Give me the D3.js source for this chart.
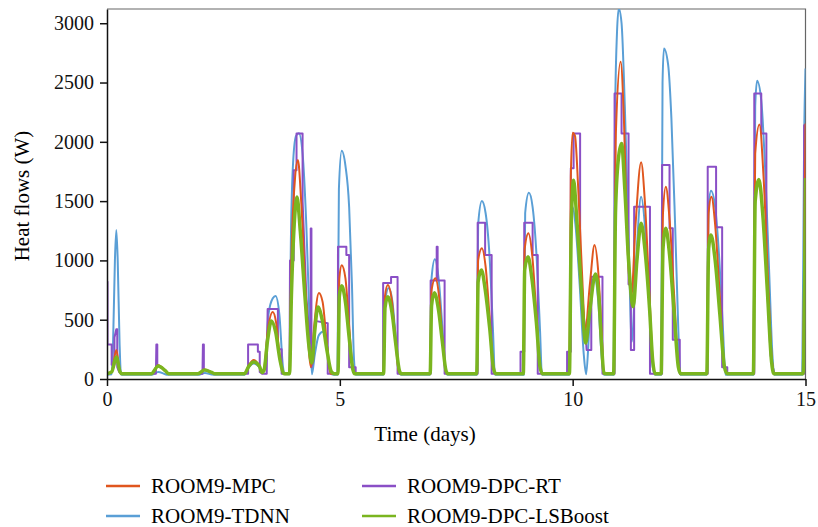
<!DOCTYPE html>
<html>
<head>
<meta charset="utf-8">
<script src="https://cdn.jsdelivr.net/npm/d3@7"></script>
<style>
  body { margin: 0; background: #fff; }
</style>
</head>
<body>
<div id="wrapper"></div>
<script>
// values: [day, heat flow W]
const mpc = [
  [0,45],[0.1,60],[0.2,245],[0.28,60],[0.32,45],[0.95,45],[1.1,115],[1.25,70],[1.32,45],
  [1.95,45],[2.1,80],[2.25,55],[2.32,45],[2.95,45],[3.05,120],[3.15,160],[3.27,110],[3.33,60],
  [3.37,80],[3.45,400],[3.56,565],[3.63,480],[3.72,150],[3.8,45],[3.92,45],[3.96,1000],
  [4.03,1650],[4.1,1846],[4.17,1500],[4.27,700],[4.38,100],[4.45,450],[4.55,725],[4.63,650],
  [4.72,300],[4.8,45],[4.96,45],[4.99,850],[5.04,960],[5.12,850],[5.2,450],[5.28,80],[5.32,45],
  [5.94,45],[5.97,700],[6.03,792],[6.12,650],[6.2,300],[6.27,60],[6.32,45],[6.94,45],[6.97,750],
  [7.05,850],[7.13,700],[7.2,350],[7.28,60],[7.32,45],[7.94,45],[7.97,1000],[8.05,1103],
  [8.13,950],[8.22,500],[8.3,90],[8.35,45],[8.94,45],[8.97,1100],[9.05,1230],[9.13,1050],
  [9.22,550],[9.3,100],[9.35,45],[9.93,45],[9.96,1700],[10.0,2076],[10.05,2050],[10.12,1600],
  [10.2,900],[10.27,413],[10.37,800],[10.47,1130],[10.55,900],[10.62,400],[10.67,50],[10.72,45],
  [10.88,45],[10.93,2100],[11.03,2675],[11.1,2200],[11.18,1100],[11.26,700],[11.35,1300],
  [11.47,1827],[11.55,1500],[11.65,700],[11.72,150],[11.77,45],[11.9,45],[11.94,1400],
  [12.0,1621],[12.08,1350],[12.18,700],[12.27,100],[12.32,45],[12.88,45],[12.92,1400],
  [12.98,1537],[13.06,1300],[13.16,700],[13.26,100],[13.32,45],[13.88,45],[13.92,1900],
  [14.01,2147],[14.1,1700],[14.2,800],[14.28,150],[14.33,45],[14.95,45],[15.0,2155]
];
const tdnn = [
  [0,35],[0.1,40],[0.13,300],[0.17,1000],[0.2,1256],[0.23,1000],[0.27,300],[0.3,40],[0.35,35],
  [0.95,35],[1.1,60],[1.25,40],[1.3,35],[1.95,35],[2.1,50],[2.25,38],[2.3,35],[2.95,35],
  [3.05,100],[3.15,130],[3.27,100],[3.33,60],[3.39,100],[3.47,550],[3.56,680],[3.62,700],
  [3.7,550],[3.78,100],[3.82,40],[3.92,40],[3.95,1200],[4.0,1850],[4.06,2050],[4.12,2072],
  [4.2,1900],[4.28,1300],[4.35,500],[4.4,40],[4.46,200],[4.55,370],[4.65,400],[4.72,300],
  [4.8,50],[4.86,35],[4.95,35],[4.98,1600],[5.04,1925],[5.12,1800],[5.2,1450],[5.26,800],
  [5.3,200],[5.34,35],[5.94,35],[5.97,650],[6.05,767],[6.13,650],[6.2,350],[6.27,60],[6.32,35],
  [6.94,35],[6.97,850],[7.04,1009],[7.12,850],[7.2,450],[7.27,60],[7.32,35],[7.94,35],
  [7.97,1300],[8.05,1500],[8.13,1400],[8.22,1000],[8.29,400],[8.33,35],[8.95,35],[8.98,1400],
  [9.06,1570],[9.14,1450],[9.23,1000],[9.3,400],[9.34,35],[9.93,35],[9.96,1100],[10.0,1450],
  [10.06,1300],[10.15,800],[10.24,200],[10.29,40],[10.36,450],[10.47,860],[10.55,650],
  [10.62,200],[10.67,35],[10.88,35],[10.91,2200],[10.95,2900],[10.99,3125],[11.05,3000],
  [11.12,2300],[11.2,1200],[11.27,314],[11.35,900],[11.47,1537],[11.55,1300],[11.65,600],
  [11.72,100],[11.77,35],[11.9,35],[11.93,2500],[11.96,2787],[12.05,2650],[12.12,2200],
  [12.2,1300],[12.27,400],[12.31,35],[12.88,35],[12.92,1450],[12.97,1587],[13.06,1450],
  [13.15,1000],[13.23,400],[13.28,35],[13.88,35],[13.92,2300],[13.96,2515],[14.05,2350],
  [14.13,1800],[14.22,900],[14.29,200],[14.33,35],[14.93,35],[14.97,2000],[15.0,2618]
];
const dpcRT = [
  [0,820],[0.01,820],[0.01,290],[0.1,290],[0.1,120],[0.16,120],[0.16,350],[0.2,420],[0.22,420],
  [0.22,100],[0.26,60],[0.3,45],[1.05,45],[1.06,290],[1.08,290],[1.08,110],[1.2,90],[1.3,45],
  [2.05,45],[2.06,290],[2.08,290],[2.08,80],[2.2,60],[2.3,45],[3.03,45],[3.03,290],[3.24,290],
  [3.24,230],[3.28,230],[3.28,60],[3.33,45],[3.43,45],[3.45,590],[3.67,590],[3.67,250],
  [3.75,250],[3.75,45],[3.92,45],[3.93,1000],[4.01,1000],[4.01,1760],[4.07,1760],[4.07,2070],
  [4.2,2070],[4.2,1500],[4.28,700],[4.35,350],[4.375,300],[4.375,1270],[4.39,1270],[4.39,100],
  [4.43,150],[4.47,490],[4.74,470],[4.74,45],[4.96,45],[4.96,1115],[5.14,1115],[5.14,1045],
  [5.2,1045],[5.2,100],[5.34,100],[5.34,45],[5.93,45],[5.93,810],[6.1,810],[6.1,860],[6.24,860],
  [6.24,45],[6.95,45],[6.95,830],[7.08,830],[7.08,1115],[7.1,1115],[7.1,830],[7.25,830],[7.25,45],
  [7.96,45],[7.96,1318],[8.12,1318],[8.12,1045],[8.26,1045],[8.26,45],[8.88,45],[8.88,230],
  [8.96,230],[8.96,1318],[9.14,1318],[9.14,1045],[9.25,1045],[9.25,45],[9.88,45],[9.88,230],
  [9.96,230],[9.96,1778],[10.02,1778],[10.02,2070],[10.16,2070],[10.16,900],[10.22,600],
  [10.27,413],[10.3,245],[10.4,245],[10.4,862],[10.64,862],[10.64,45],[10.9,45],[10.9,2408],
  [11.05,2408],[11.05,2070],[11.2,2070],[11.2,800],[11.25,800],[11.25,245],[11.32,245],
  [11.32,1453],[11.66,1453],[11.66,45],[11.92,45],[11.92,1804],[12.08,1804],[12.08,1272],
  [12.15,1272],[12.15,330],[12.3,330],[12.3,45],[12.9,45],[12.9,1790],[13.08,1790],[13.08,1280],
  [13.21,1280],[13.21,100],[13.32,100],[13.32,45],[13.9,45],[13.9,2408],[14.05,2408],
  [14.05,2070],[14.16,2070],[14.16,900],[14.25,200],[14.3,100],[14.33,45],[14.97,45],
  [14.97,2140],[15,2140]
];
const lsboost = [
  [0,45],[0.1,60],[0.2,185],[0.28,60],[0.32,45],[0.95,45],[1.1,110],[1.25,70],[1.32,45],
  [1.95,45],[2.1,76],[2.25,55],[2.32,45],[2.95,45],[3.05,110],[3.15,143],[3.27,110],[3.33,55],
  [3.37,70],[3.45,330],[3.53,490],[3.62,400],[3.72,150],[3.8,45],[3.92,45],[3.96,700],
  [4.02,1300],[4.08,1535],[4.15,1250],[4.25,700],[4.33,300],[4.4,135],[4.46,400],[4.53,607],
  [4.62,500],[4.72,250],[4.82,60],[4.88,45],[4.96,45],[4.99,700],[5.04,786],[5.12,650],
  [5.2,350],[5.28,80],[5.32,45],[5.94,45],[5.97,600],[6.03,694],[6.12,560],[6.2,300],[6.28,70],
  [6.32,45],[6.94,45],[6.97,620],[7.03,727],[7.12,580],[7.2,320],[7.28,70],[7.32,45],[7.94,45],
  [7.97,820],[8.04,919],[8.12,760],[8.22,420],[8.3,90],[8.35,45],[8.94,45],[8.97,920],
  [9.04,1031],[9.12,860],[9.22,480],[9.3,100],[9.35,45],[9.93,45],[9.97,1300],[10.02,1677],
  [10.08,1400],[10.18,800],[10.28,303],[10.36,550],[10.49,885],[10.56,700],[10.62,300],
  [10.67,50],[10.72,45],[10.88,45],[10.92,1400],[10.98,1850],[11.05,1986],[11.12,1600],
  [11.2,1000],[11.3,610],[11.38,1000],[11.47,1313],[11.55,1100],[11.65,600],[11.72,150],
  [11.77,45],[11.9,45],[11.94,1100],[12.0,1272],[12.08,1050],[12.18,550],[12.27,100],[12.32,45],
  [12.88,45],[12.92,1100],[12.97,1214],[13.06,1000],[13.16,550],[13.26,100],[13.32,45],
  [13.88,45],[13.92,1500],[14.0,1683],[14.08,1400],[14.18,750],[14.27,150],[14.32,45],
  [14.95,45],[15.0,1694]
];
const xTicks = [0, 5, 10, 15];
const yTicks = [0, 500, 1000, 1500, 2000, 2500, 3000];
const seriesNames = ["ROOM9-MPC", "ROOM9-TDNN", "ROOM9-DPC-RT", "ROOM9-DPC-LSBoost"];
const seriesColors = ["#e0561e", "#5a9fd6", "#8a4fc6", "#7ab51f"];

const serif = "'Liberation Serif', 'DejaVu Serif', serif";
const width = 818, height = 527;
const margin = { top: 9, left: 107, right: 12, bottom: 148 };

const svg = d3.select("#wrapper").append("svg")
    .attr("width", width)
    .attr("height", height)
    .style("font-family", serif);

const x = d3.scaleLinear().domain([0, 15]).range([margin.left, width - margin.right - 0.5]);
const y = d3.scaleLinear().domain([0, 3120]).range([height - margin.bottom, margin.top]);

svg.append("defs").append("clipPath").attr("id", "clip")
  .append("rect")
    .attr("x", x(0)).attr("y", y(3120))
    .attr("width", x(15) - x(0)).attr("height", y(0) - y(3120));

// grey frame top/right
svg.append("path")
    .attr("d", `M${x(0)},${y(3120)}H${x(15)}V${y(0)}`)
    .attr("fill", "none")
    .attr("stroke", "#666")
    .attr("stroke-width", 1.2);

const plot = svg.append("g").attr("clip-path", "url(#clip)");

const smooth = d3.line().x(d => x(d[0])).y(d => y(d[1])).curve(d3.curveMonotoneX);
const steps = d3.line().x(d => x(d[0])).y(d => y(d[1]));

const layers = [
  { data: tdnn, color: seriesColors[1], w: 2, gen: smooth },
  { data: dpcRT, color: seriesColors[2], w: 2, gen: steps },
  { data: mpc, color: seriesColors[0], w: 2, gen: smooth },
  { data: lsboost, color: seriesColors[3], w: 3.5, gen: smooth }
];
layers.forEach(l => {
  plot.append("path")
      .attr("d", l.gen(l.data))
      .attr("fill", "none")
      .attr("stroke", l.color)
      .attr("stroke-width", l.w)
      .attr("stroke-linejoin", "round");
});

const yAxis = svg.append("g")
    .attr("transform", `translate(${x(0)},0)`)
    .call(d3.axisLeft(y).tickValues(yTicks).tickFormat(d3.format("d"))
      .tickSize(7).tickSizeOuter(0).tickPadding(6));
const xAxis = svg.append("g")
    .attr("transform", `translate(0,${y(0)})`)
    .call(d3.axisBottom(x).tickValues(xTicks).tickFormat(d3.format("d"))
      .tickSize(7).tickSizeOuter(0).tickPadding(6));
[xAxis, yAxis].forEach(a => {
  a.attr("font-family", null).attr("font-size", null);
  a.selectAll("text").style("font-size", "20px").style("font-family", serif).attr("fill", "#111");
  a.selectAll("line").attr("stroke", "#111").attr("stroke-width", 1.5);
  a.select(".domain").attr("stroke", "#111").attr("stroke-width", 1.5);
});

svg.append("text")
    .attr("x", 425).attr("y", 441)
    .attr("text-anchor", "middle")
    .style("font-size", "21px")
    .text("Time (days)");

svg.append("text")
    .attr("transform", "translate(29,196) rotate(-90)")
    .attr("text-anchor", "middle")
    .style("font-size", "21px")
    .text("Heat flows (W)");

// legend: two columns
const legendPos = [[106, 486], [106, 516], [362, 486], [362, 516]];
seriesNames.forEach((name, i) => {
  const [lx, ly] = legendPos[i];
  svg.append("line")
      .attr("x1", lx).attr("x2", lx + 34)
      .attr("y1", ly).attr("y2", ly)
      .attr("stroke", seriesColors[i])
      .attr("stroke-width", 2.5);
  svg.append("text")
      .attr("x", lx + 45).attr("y", ly + 7)
      .style("font-size", "21px")
      .text(name);
});
</script>
</body>
</html>
